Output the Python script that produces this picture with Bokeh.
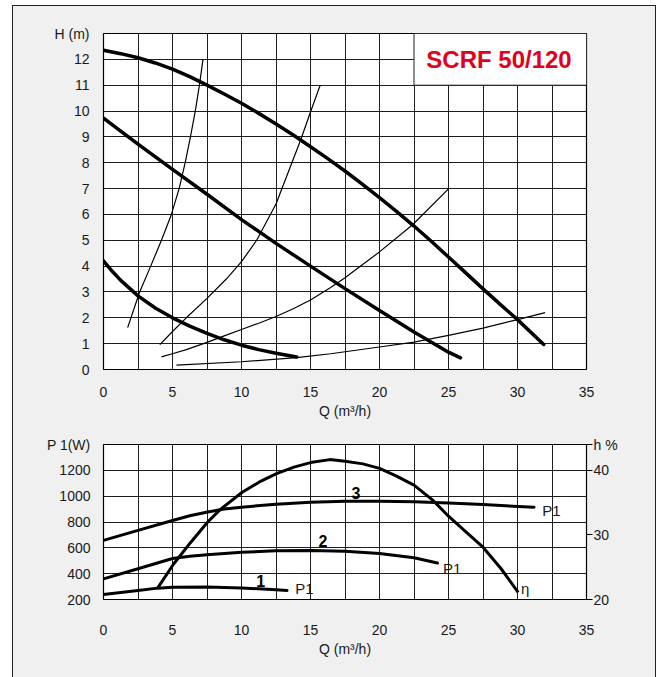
from bokeh.plotting import figure
from bokeh.models import Range1d, LinearAxis, FixedTicker
from bokeh.layouts import column
from bokeh.core.properties import value
from bokeh.embed import file_html
from bokeh.resources import INLINE

FONT = "Liberation Sans"
BG = "#eff0ef"
GRID = "#1e1e1e"
RED = "#e2001a"
TXT = "#1a1a1a"

# ---------------- top chart data: H (m) vs Q (m3/h) ----------------
title_text = "SCRF 50/120"
q_ticks = [0, 5, 10, 15, 20, 25, 30, 35]
h_ticks = list(range(0, 14))
h_labels = {13: "H (m)"}

c1_q = [0, 0.6, 1.25, 2.5, 3.75, 5, 6.25, 7.5, 8.75, 10, 11.25, 12.5, 14.0]
c1_h = [4.2, 3.82, 3.45, 2.85, 2.38, 2.0, 1.68, 1.4, 1.15, 0.94, 0.77, 0.63, 0.48]

c2_q = [0, 2.5, 5, 7.5, 10, 12.5, 15, 17.5, 20, 22.5, 25, 25.87]
c2_h = [9.72, 8.72, 7.74, 6.78, 5.8, 4.88, 4.0, 3.13, 2.28, 1.45, 0.67, 0.45]

c3_q = [0, 1.25, 2.5, 3.75, 5, 6.25, 7.5, 8.75, 10, 11.25, 12.5, 13.75, 15, 16.25,
        17.5, 18.75, 20, 21.25, 22.5, 23.75, 25, 26.25, 27.5, 28.75, 30, 31.9]
c3_h = [12.35, 12.22, 12.06, 11.86, 11.62, 11.33, 11.0, 10.66, 10.3, 9.91, 9.5, 9.07,
        8.62, 8.16, 7.68, 7.17, 6.65, 6.11, 5.55, 4.96, 4.35, 3.74, 3.12, 2.52, 1.93, 0.97]

s1_q = [1.75, 2.62, 3.42, 4.2, 4.92, 5.48, 5.92, 6.3, 6.65, 6.95, 7.21]
s1_h = [1.62, 3, 4, 5, 6, 7, 8, 9, 10, 11, 12]

s2_q = [4.08, 5, 6, 7.5, 8.9, 10, 11.1, 12.5, 13.4, 14.3, 15, 15.7]
s2_h = [0.96, 1.47, 2.0, 2.75, 3.5, 4.17, 5.0, 6.4, 7.65, 8.9, 9.96, 11.0]

s3_q = [4.2, 5.05, 6, 7.5, 8.75, 10, 11.25, 12.5, 13.75, 15, 16.46, 17.5, 20, 22.4, 25]
s3_h = [0.49, 0.62, 0.77, 1.05, 1.3, 1.55, 1.79, 2.05, 2.35, 2.69, 3.17, 3.55, 4.55, 5.6, 6.99]

s4_q = [5.29, 10, 14, 16.46, 20, 22.5, 25, 27.5, 30, 32]
s4_h = [0.17, 0.3, 0.46, 0.61, 0.87, 1.06, 1.32, 1.6, 1.93, 2.2]

# ---------------- bottom chart data: P1 (W) and efficiency ----------------
p_ticks = [200, 400, 600, 800, 1000, 1200, 1400]
p_labels = {1400: "P 1(W)"}
eta_ticks = [20, 30, 40, 44]
eta_labels = {44: "h %"}

p3_q = [0, 2.5, 5, 6.25, 7.55, 8.75, 10, 12.5, 15, 17.5, 20, 22.5, 25, 27.5, 31.2]
p3_w = [658, 735, 812, 848, 878, 900, 915, 938, 953, 960, 961, 957, 948, 935, 914]

p2_q = [0, 2.5, 5, 6.25, 7.5, 10, 12.5, 15, 17.5, 20, 22.5, 24.2]
p2_w = [360, 438, 517, 534, 546, 566, 577, 580, 574, 556, 523, 482]

p1_q = [0, 2.5, 3.9, 5, 7.5, 10, 12.5, 13.3]
p1_w = [239, 270, 288, 295, 297, 289, 276, 270]

eta_q = [3.92, 5.08, 6.3, 7.55, 8.47, 10.05, 11.3, 12.54, 13.8, 15.0, 16.4, 17.5,
         18.8, 20, 21.2, 22.5, 23.9, 25, 26.2, 27.5, 28.8, 30.05]
eta_v = [21.75, 25.5, 28.8, 32.0, 33.95, 36.6, 38.2, 39.5, 40.5, 41.2, 41.66, 41.4,
         41.0, 40.3, 39.15, 37.7, 35.3, 32.9, 30.6, 28.1, 24.8, 21.1]

curve_numbers = ["1", "2", "3"]
num_q = [11.4, 15.9, 18.3]
num_w = [345, 653, 1025]
p1_lab_q = [13.9, 24.6, 31.8]
p1_lab_w = [283, 443, 891]
eta_lab_q = [30.25]
eta_lab_w = [283]

FS = "14px"


def style_axis(ax, standoff):
    ax.major_tick_in = 0
    ax.major_tick_out = 0
    ax.minor_tick_in = 0
    ax.minor_tick_out = 0
    ax.axis_line_color = None
    ax.major_label_text_font = FONT
    ax.major_label_text_font_size = FS
    ax.major_label_text_color = TXT
    ax.major_label_standoff = standoff
    ax.axis_label_text_font = FONT
    ax.axis_label_text_font_size = FS
    ax.axis_label_text_font_style = "normal"
    ax.axis_label_text_color = TXT


# ---------------- top figure ----------------
top = figure(width=642, height=423, x_range=Range1d(0, 35), y_range=Range1d(0, 13),
             output_backend="svg", toolbar_location=None,
             min_border_left=90, min_border_right=69, min_border_top=27, min_border_bottom=60,
             background_fill_color="white", border_fill_color=BG)
top.outline_line_color = "black"
top.outline_line_width = 1.2
top.xaxis.ticker = FixedTicker(ticks=q_ticks)
top.yaxis.ticker = FixedTicker(ticks=h_ticks)
top.yaxis.major_label_overrides = h_labels
style_axis(top.xaxis[0], 17)
style_axis(top.yaxis[0], 14)
top.xaxis.axis_label = "Q (m³/h)"
top.xaxis.axis_label_standoff = 3
top.xgrid.ticker = FixedTicker(ticks=[i * 2.5 for i in range(15)])
top.ygrid.ticker = FixedTicker(ticks=list(range(14)))
for g in (top.xgrid[0], top.ygrid[0]):
    g.grid_line_color = GRID
    g.grid_line_width = 1

top.quad(left=[22.5], right=[35], bottom=[11], top=[13], fill_color="white",
         line_color=GRID, line_width=1)
top.text(x=[28.66], y=[12.0], text=[title_text], text_font=value(FONT), text_font_style="bold",
         text_font_size="24px", text_color=RED, text_align="center", text_baseline="middle")

for q, h in ((s1_q, s1_h), (s2_q, s2_h), (s3_q, s3_h), (s4_q, s4_h)):
    top.line(q, h, line_color="black", line_width=1.2, line_join="round")
for q, h in ((c1_q, c1_h), (c2_q, c2_h), (c3_q, c3_h)):
    top.line(q, h, line_color="black", line_width=3.5, line_cap="round", line_join="round")

# ---------------- bottom figure ----------------
bot = figure(width=642, height=248, x_range=Range1d(0, 35), y_range=Range1d(200, 1400),
             output_backend="svg", toolbar_location=None,
             min_border_left=90, min_border_right=69, min_border_top=15, min_border_bottom=78,
             background_fill_color="white", border_fill_color=BG)
bot.extra_y_ranges = {"eta": Range1d(20, 44)}
bot.outline_line_color = "black"
bot.outline_line_width = 1.2
bot.xaxis.ticker = FixedTicker(ticks=q_ticks)
bot.yaxis.ticker = FixedTicker(ticks=p_ticks)
bot.yaxis.major_label_overrides = p_labels
style_axis(bot.xaxis[0], 25)
style_axis(bot.yaxis[0], 13)
bot.xaxis.axis_label = "Q (m³/h)"
bot.xaxis.axis_label_standoff = 3
bot.xgrid.ticker = FixedTicker(ticks=[i * 2.5 for i in range(15)])
bot.ygrid.ticker = FixedTicker(ticks=list(range(200, 1401, 200)))
for g in (bot.xgrid[0], bot.ygrid[0]):
    g.grid_line_color = GRID
    g.grid_line_width = 1

raxis = LinearAxis(y_range_name="eta", ticker=FixedTicker(ticks=eta_ticks),
                   major_label_overrides=eta_labels)
style_axis(raxis, 1)
raxis.major_tick_out = 6
raxis.major_tick_line_color = "black"
bot.add_layout(raxis, "right")

for q, w in ((p1_q, p1_w), (p2_q, p2_w), (p3_q, p3_w)):
    bot.line(q, w, line_color="black", line_width=3, line_cap="round", line_join="round")
bot.line(eta_q, eta_v, y_range_name="eta", line_color="black", line_width=3, line_join="round")

bot.text(x=num_q, y=num_w, text=curve_numbers, text_font=value(FONT), text_font_style="bold",
         text_font_size="16px", text_color="black", text_align="center", text_baseline="middle")
bot.text(x=p1_lab_q, y=p1_lab_w, text=["P1"] * 3, text_font=value(FONT),
         text_font_size="15px", text_color=TXT, text_align="left", text_baseline="middle")
bot.text(x=eta_lab_q, y=eta_lab_w, text=["η"], text_font=value(FONT),
         text_font_size="15px", text_color=TXT, text_align="left", text_baseline="middle")

layout = column(top, bot, margin=(5, 0, 0, 12),
                styles={"border-left": "1px solid #222", "border-right": "1px solid #222",
                        "border-top": "1px solid #222", "background-color": BG})

open("out.html", "w").write(file_html(layout, INLINE))
